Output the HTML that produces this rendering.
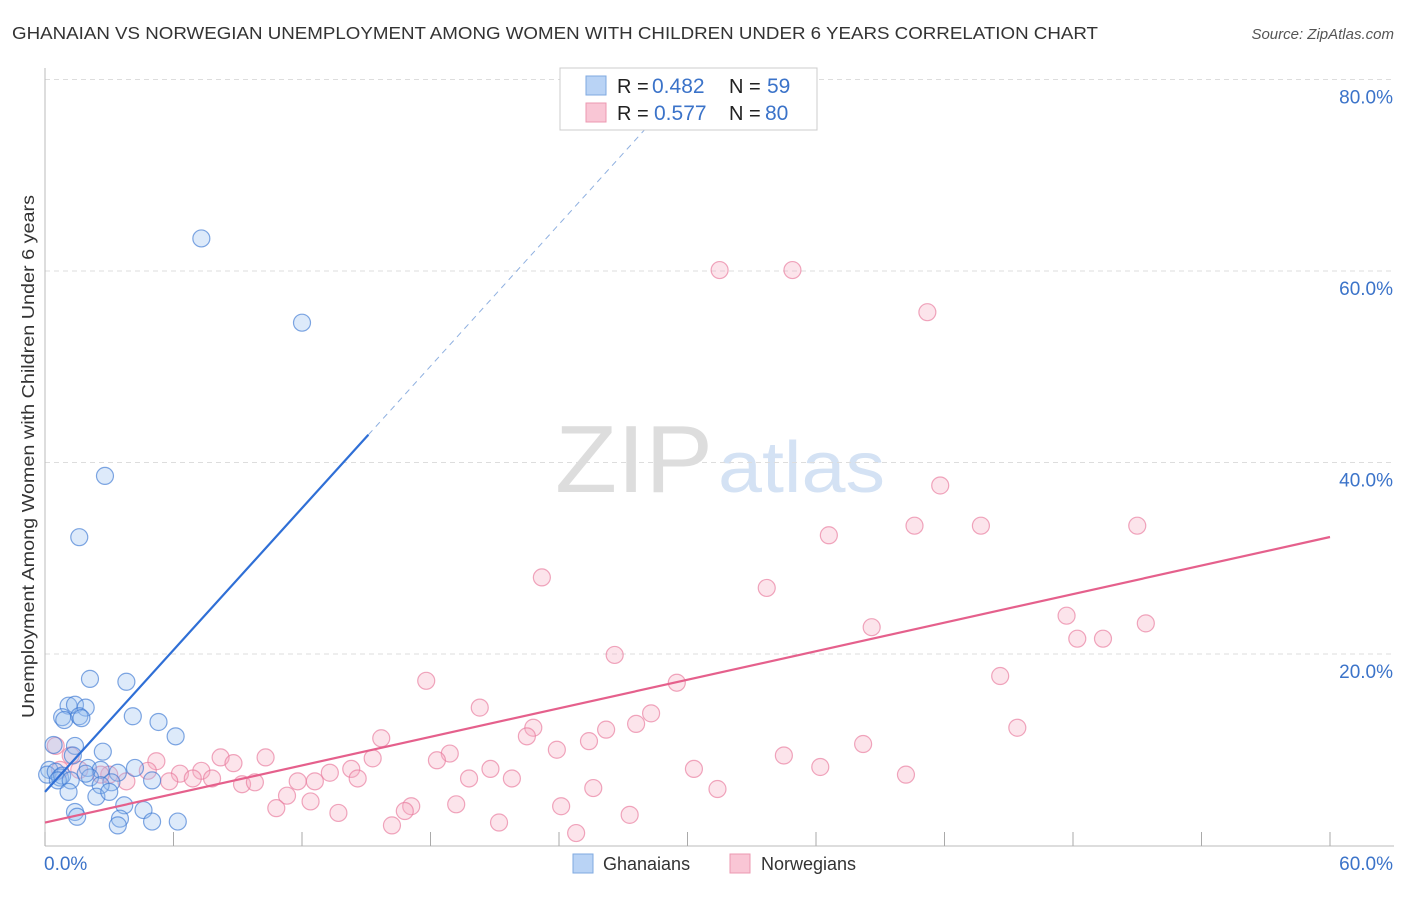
<!DOCTYPE html>
<html><head><meta charset="utf-8"><style>
body{margin:0;background:#fff;font-family:"Liberation Sans",sans-serif}
svg text{font-family:"Liberation Sans",sans-serif}
</style></head><body>
<svg width="1406" height="892" id="chart">
<text x="12" y="39" font-size="17.5" fill="#333" textLength="1086" lengthAdjust="spacingAndGlyphs">GHANAIAN VS NORWEGIAN UNEMPLOYMENT AMONG WOMEN WITH CHILDREN UNDER 6 YEARS CORRELATION CHART</text>
<text x="1394" y="39" font-size="15" fill="#555" font-style="italic" text-anchor="end">Source: ZipAtlas.com</text>
<text x="0" y="0" transform="translate(34,718) rotate(-90)" font-size="17.5" fill="#333" textLength="523" lengthAdjust="spacingAndGlyphs">Unemployment Among Women with Children Under 6 years</text>
<g><text x="555" y="492" font-size="96" fill="#ddd" font-family="Liberation Serif" textLength="158" lengthAdjust="spacingAndGlyphs">ZIP</text><text x="718" y="492" font-size="72" fill="#d4e2f4" textLength="167" lengthAdjust="spacingAndGlyphs">atlas</text></g>
<g id="grid"></g><g id="axes"></g><g id="pts"></g><g id="lines"></g>
<g>
<rect x="560" y="68" width="257" height="62" fill="#fff" stroke="#ccc"/>
<rect x="586" y="76" width="20" height="19" fill="#b9d3f5" stroke="#7fa9e0"/>
<rect x="586" y="103" width="20" height="19" fill="#f9c6d5" stroke="#ec98b1"/>
<text x="617" y="93" font-size="20" fill="#222">R =</text>
<text x="652" y="93" font-size="21" fill="#3b73c9">0.482</text>
<text x="729" y="93" font-size="20" fill="#222">N =</text>
<text x="767" y="93" font-size="21" fill="#3b73c9">59</text>
<text x="617" y="120" font-size="20" fill="#222">R =</text>
<text x="654" y="120" font-size="21" fill="#3b73c9">0.577</text>
<text x="729" y="120" font-size="20" fill="#222">N =</text>
<text x="765" y="120" font-size="21" fill="#3b73c9">80</text>
</g>
<g>
<rect x="573" y="854" width="20" height="19" fill="#b9d3f5" stroke="#7fa9e0"/>
<text x="603" y="870" font-size="18" fill="#333">Ghanaians</text>
<rect x="730" y="854" width="20" height="19" fill="#f9c6d5" stroke="#ec98b1"/>
<text x="761" y="870" font-size="18" fill="#333">Norwegians</text>
</g>
</svg>
<script>
const yTicks=[20,40,60,80];
const yTickLabels=["20.0%","40.0%","60.0%","80.0%"];
const xTicks=[0,6,12,18,24,30,36,42,48,54,60];
const xLabelMin="0.0%", xLabelMax="60.0%";
const ghanaX=[7.3,12.0,2.8,1.6,2.1,3.8,1.1,1.4,1.9,0.8,0.9,1.6,1.7,4.1,5.3,6.1,0.4,1.4,2.7,1.3,0.2,0.1,0.5,0.7,0.8,0.6,2.0,2.6,3.4,4.2,2.1,1.9,3.1,5.0,2.6,1.2,2.4,3.0,1.1,3.7,4.6,1.4,1.5,3.5,3.4,5.0,6.2];
const ghanaY=[63.4,54.6,38.6,32.2,17.4,17.1,14.6,14.7,14.4,13.4,13.1,13.5,13.3,13.5,12.9,11.4,10.5,10.4,9.8,9.4,7.9,7.4,7.7,7.1,7.3,6.8,8.1,7.9,7.6,8.1,7.1,7.5,6.6,6.8,6.3,6.8,5.1,5.6,5.6,4.2,3.7,3.5,3.0,2.8,2.1,2.5,2.5];
const norX=[31.5,34.9,41.2,41.8,40.6,43.7,51.0,36.6,23.2,33.7,47.7,51.4,38.6,48.2,49.4,26.6,17.8,29.5,44.6,20.3,28.3,27.6,26.2,22.8,45.4,22.5,15.7,25.4,23.9,38.2,34.5,18.9,18.3,15.3,10.3,8.2,8.8,5.2,0.5,1.2,20.8,30.3,36.2,14.3,13.3,4.8,6.3,7.3,7.8,6.9,5.8,3.8,3.0,40.2,19.8,21.8,14.6,11.8,12.6,9.2,9.8,0.7,1.6,2.6,31.4,25.6,11.3,12.4,19.2,17.1,10.8,16.8,24.1,13.7,27.3,16.2,21.2,24.8];
const norY=[60.1,60.1,55.7,37.6,33.4,33.4,33.4,32.4,28.0,26.9,24.0,23.2,22.8,21.6,21.6,19.9,17.2,17.0,17.7,14.4,13.8,12.7,12.1,12.3,12.3,11.4,11.2,10.9,10.0,10.6,9.4,9.6,8.9,9.1,9.2,9.2,8.6,8.8,10.4,9.4,8.0,8.0,8.2,8.0,7.6,7.8,7.5,7.8,7.0,7.0,6.7,6.7,7.4,7.4,7.0,7.0,7.0,6.7,6.7,6.4,6.6,7.9,7.9,7.4,5.9,6.0,5.2,4.6,4.3,4.1,3.9,3.6,4.1,3.4,3.2,2.1,2.4,1.3];
const blueFit=[0,5.6,2.47], blueSolidEnd=15.1, blueDashEnd=28.2;
const pinkFit=[0,2.4,0.497];
const X=v=>45+v*(1285/60), Y=v=>845.5-v*9.575;
const NS="http://www.w3.org/2000/svg";
function mk(t,a,p){const e=document.createElementNS(NS,t);for(const k in a)e.setAttribute(k,a[k]);document.getElementById(p).appendChild(e);return e;}
yTicks.forEach((t,i)=>{
 const l=mk('line',{x1:45,x2:1394,y1:Y(t),y2:Y(t),stroke:'#ddd','stroke-dasharray':'5,4'},'grid');
 
 
 const tx=mk('text',{x:1393,y:Y(t)+24,'font-size':19,fill:'#3b73c9','text-anchor':'end'},'grid');
 tx.textContent=yTickLabels[i];
 
 
});
const ax=mk('line',{x1:45,x2:45,y1:68,y2:846,stroke:'#bbb'},'axes');


const bx=mk('line',{x1:45,x2:1394,y1:846,y2:846,stroke:'#bbb'},'axes');


xTicks.forEach(t=>{const l=mk('line',{x1:X(t),x2:X(t),y1:832,y2:846,stroke:'#aaa'},'axes');
 
 });
const t0=mk('text',{x:44,y:870,'font-size':19,fill:'#3b73c9'},'axes');t0.textContent=xLabelMin;


const t1=mk('text',{x:1393,y:870,'font-size':19,fill:'#3b73c9','text-anchor':'end'},'axes');t1.textContent=xLabelMax;


norX.forEach((x,i)=>{const c=mk('circle',{cx:X(x),cy:Y(norY[i]),r:8.5,fill:'rgba(246,170,194,0.32)',stroke:'rgba(232,120,155,0.65)','stroke-width':1.2},'pts');
 
 });
ghanaX.forEach((x,i)=>{const c=mk('circle',{cx:X(x),cy:Y(ghanaY[i]),r:8.5,fill:'rgba(150,190,240,0.32)',stroke:'rgba(60,120,210,0.65)','stroke-width':1.2},'pts');
 
 });
const bl=v=>blueFit[1]+blueFit[2]*v, pl=v=>pinkFit[1]+pinkFit[2]*v;
const l1=mk('line',{x1:X(0),y1:Y(bl(0)),x2:X(blueSolidEnd),y2:Y(bl(blueSolidEnd)),stroke:'#2f6fd6','stroke-width':2.2},'lines');


const l2=mk('line',{x1:X(blueSolidEnd),y1:Y(bl(blueSolidEnd)),x2:X(blueDashEnd),y2:Y(bl(blueDashEnd)),stroke:'#8fb0e0','stroke-width':1,'stroke-dasharray':'6,5'},'lines');


const l3=mk('line',{x1:X(0),y1:Y(pl(0)),x2:X(60),y2:Y(pl(60)),stroke:'#e5608c','stroke-width':2.2},'lines');


</script>
</body></html>
